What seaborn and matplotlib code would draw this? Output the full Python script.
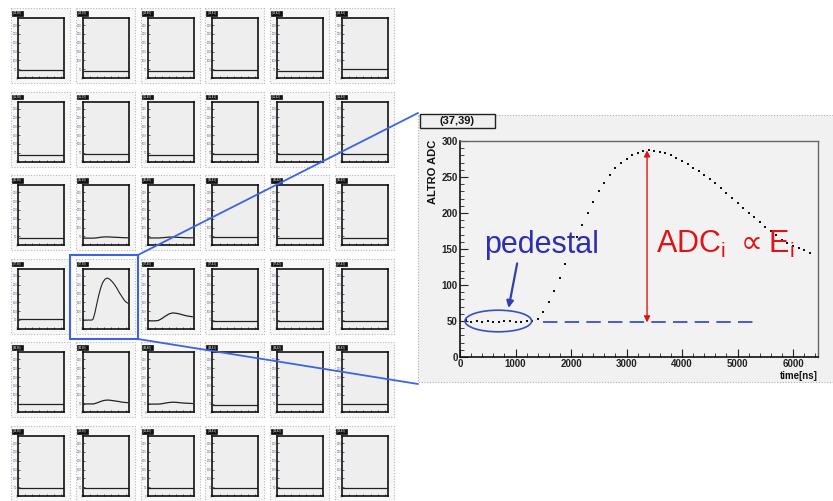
import matplotlib
matplotlib.use("Agg")
import matplotlib.pyplot as plt
import seaborn as sns
import pandas as pd
from matplotlib.patches import Rectangle, Ellipse
from matplotlib.ticker import MultipleLocator

# ---------------- data ----------------
time_ns = [100, 200, 300, 400, 500, 600, 700, 800, 900, 1000, 1100, 1200, 1300,
           1400, 1500, 1600, 1700, 1800, 1900, 2000, 2100, 2200, 2300,
           2400, 2500, 2600, 2700, 2800, 2900, 3000, 3100, 3200, 3300,
           3400, 3500, 3600, 3700, 3800, 3900, 4000, 4100, 4200, 4300,
           4400, 4500, 4600, 4700, 4800, 4900, 5000, 5100, 5200, 5300,
           5400, 5500, 5600, 5700, 5800, 5900, 6000, 6100, 6200, 6300]
adc_counts = [51, 49, 50, 49, 50, 49, 49, 50, 50, 49, 49, 50, 50,
              53, 62, 76, 92, 110, 129, 148, 166, 184, 200,
              215, 230, 242, 253, 262, 269, 275, 280, 283, 286,
              287, 286, 285, 283, 280, 276, 272, 268, 263, 258,
              253, 247, 241, 235, 228, 221, 214, 207, 200, 194,
              188, 181, 175, 169, 163, 158, 154, 151, 148, 145]

# neighbouring channels (small panels), coarse sampling
coarse_time = [100, 500, 1000, 1500, 2000, 2500, 3000, 3500, 4000, 4500, 5000, 5500, 6000, 6300]
adc_right = [45, 45, 45, 47, 58, 72, 84, 90, 88, 84, 78, 73, 70, 68]
adc_below = [48, 48, 48, 48, 54, 62, 68, 70, 68, 65, 62, 58, 56, 55]
adc_below_right = [47, 47, 47, 47, 49, 53, 56, 58, 57, 55, 53, 52, 51, 50]
adc_row3_a = [40, 40, 40, 40, 42, 45, 47, 47, 46, 45, 44, 43, 42, 42]
adc_row3_b = [41, 41, 41, 41, 42, 44, 46, 46, 45, 44, 43, 42, 42, 42]
flat_span = [100, 6300]
pedestal_grid = [[45, 40, 42, 44, 38, 52],
                 [40, 42, 40, 41, 43, 42],
                 [42, 40, 41, 44, 43, 42],
                 [55, 0, 0, 46, 44, 45],
                 [46, 0, 0, 44, 45, 46],
                 [45, 43, 44, 43, 44, 45]]

channel_row0, channel_col0 = 34, 38
panel_title = "(37,39)"
y_label = "ALTRO ADC"
x_label = "time[ns]"
pedestal_text = "pedestal"
energy_text = r"ADC$_\mathregular{i}$ $\propto$E$_\mathregular{i}$"
x_ticks = [0, 1000, 2000, 3000, 4000, 5000, 6000]
y_ticks = [0, 50, 100, 150, 200, 250, 300]
baseline_level = 48
baseline_span = [1500, 5300]
peak_time = 3370
peak_value = 287

# ---------------- figure ----------------
sns.set_theme(style="white")
plt.rcParams["font.family"] = ["Liberation Sans", "DejaVu Sans"]
plt.rcParams["mathtext.fontset"] = "dejavusans"

W, H = 833, 501
fig = plt.figure(figsize=(W / 100, H / 100), dpi=100)
fig.patch.set_facecolor("white")


def px_axes(l, t, w, h, **kw):
    return fig.add_axes([l / W, 1 - (t + h) / H, w / W, h / H], **kw)


bg = px_axes(0, 0, W, H)
bg.set_xlim(0, W)
bg.set_ylim(H, 0)
bg.axis("off")

# small panel grid
for r in range(6):
    for c in range(6):
        fl = 18 + 64.8 * c
        ft = 18 + 83.6 * r
        bg.add_patch(Rectangle((fl - 7, ft - 10), 59, 75, facecolor="#f7f7f7",
                               edgecolor="#b8b8b8", lw=0.8, ls=(0, (1, 1.5))))
        bg.add_patch(Rectangle((fl - 6, ft - 7), 11, 4.5, facecolor="#111111",
                               edgecolor="#111111", lw=0.5))
        bg.text(fl - 0.5, ft - 4.7, f"({channel_row0 + r},{channel_col0 + c})",
                color="white", fontsize=2, ha="center", va="center")
        ax = px_axes(fl, ft, 46, 60)
        ax.set_facecolor("#eeeeee")
        if (r, c) == (3, 1):
            sns.lineplot(x=time_ns, y=adc_counts, ax=ax, color="#222222", lw=0.8)
        elif (r, c) == (3, 2):
            sns.lineplot(x=coarse_time, y=adc_right, ax=ax, color="#222222", lw=0.9)
        elif (r, c) == (4, 1):
            sns.lineplot(x=coarse_time, y=adc_below, ax=ax, color="#222222", lw=0.9)
        elif (r, c) == (4, 2):
            sns.lineplot(x=coarse_time, y=adc_below_right, ax=ax, color="#222222", lw=0.9)
        elif (r, c) == (2, 1):
            sns.lineplot(x=coarse_time, y=adc_row3_a, ax=ax, color="#222222", lw=0.9)
        elif (r, c) == (2, 2):
            sns.lineplot(x=coarse_time, y=adc_row3_b, ax=ax, color="#222222", lw=0.9)
        else:
            p = pedestal_grid[r][c]
            sns.lineplot(x=flat_span, y=[p, p], ax=ax, color="#222222", lw=0.9)
        ax.set_xlim(0, 6450)
        ax.set_ylim(0, 340)
        ax.xaxis.set_major_locator(MultipleLocator(1000))
        ax.yaxis.set_major_locator(MultipleLocator(50))
        ax.tick_params(direction="in", length=1.5, width=0.5, labelsize=2,
                       pad=0.5, labelcolor="#7a5a8a", bottom=True, left=True)
        ax.set_xticklabels([])
        ax.set_xlabel("")
        ax.set_ylabel("")
        for s in ax.spines.values():
            s.set_color("#111111")
            s.set_linewidth(1.2)

# main pad
bg.add_patch(Rectangle((418, 115), 420, 267, facecolor="#f1f1f1",
                       edgecolor="#b0b0b0", lw=0.8, ls=(0, (1, 1.5))))
bg.add_patch(Rectangle((420, 114), 75, 14, facecolor="#efefef",
                       edgecolor="#222222", lw=1.0))
bg.text(457.5, 121, panel_title, fontsize=8, fontweight="bold", ha="center",
        va="center", color="#111111")
bg.text(433, 140, y_label, fontsize=8, fontweight="bold", rotation=90,
        ha="center", va="top", color="#111111")
bg.text(818, 376, x_label, fontsize=7, fontweight="bold", ha="right",
        va="center", color="#111111")

ax = px_axes(460, 141, 358, 216)
ax.set_facecolor("#f2f2f2")
df = pd.DataFrame({"time": time_ns, "adc": adc_counts})
sns.scatterplot(data=df, x="time", y="adc", ax=ax, color="#111111", s=4,
                marker="s", linewidth=0)
ax.set_xlim(0, 6450)
ax.set_ylim(0, 300)
ax.set_xticks(x_ticks)
ax.set_yticks(y_ticks)
ax.set_xticklabels([str(v) for v in x_ticks], fontweight="bold")
ax.set_yticklabels([str(v) for v in y_ticks], fontweight="bold")
ax.xaxis.set_minor_locator(MultipleLocator(200))
ax.yaxis.set_minor_locator(MultipleLocator(10))
ax.tick_params(which="major", direction="in", length=6, width=0.8,
               labelsize=7, pad=1.5, colors="#222222", bottom=True, left=True)
ax.tick_params(which="minor", direction="in", length=3, width=0.6,
               colors="#222222", bottom=True, left=True)
ax.set_xlabel("")
ax.set_ylabel("")
for side in ["left", "bottom"]:
    ax.spines[side].set_color("#111111")
    ax.spines[side].set_linewidth(1.2)
for side in ["top", "right"]:
    ax.spines[side].set_color("#666666")
    ax.spines[side].set_linewidth(1.0)

# annotations
ax.plot(baseline_span, [baseline_level, baseline_level], color="#3a4fd0",
        lw=1.3, dashes=(8, 4))
ax.add_patch(Ellipse((690, 50), 1200, 30, facecolor="none",
                     edgecolor="#3a4fc0", lw=1.2))
ax.annotate("", xy=(875, 68), xytext=(1030, 130),
            arrowprops=dict(arrowstyle="-|>", color="#3040b0", lw=1.6,
                            mutation_scale=10, shrinkA=0, shrinkB=0))
ax.annotate("", xy=(peak_time, peak_value), xytext=(peak_time, baseline_level),
            arrowprops=dict(arrowstyle="<|-|>", color="#dd1515", lw=1.0,
                            mutation_scale=9, shrinkA=0, shrinkB=0))
ax.text(1470, 155, pedestal_text, color="#2e2eb0", fontsize=22,
        ha="center", va="center")
ax.text(3525, 144, energy_text, color="#e01418", fontsize=22,
        ha="left", va="baseline")

# overlay: zoom connectors
ov = px_axes(0, 0, W, H)
ov.set_xlim(0, W)
ov.set_ylim(H, 0)
ov.axis("off")
ov.patch.set_alpha(0)
ov.add_patch(Rectangle((70, 255), 68, 84, facecolor="none",
                       edgecolor="#3d63e6", lw=1.5))
ov.plot([138, 418], [255, 113], color="#3d63e6", lw=1.3)
ov.plot([138, 418], [339, 384], color="#3d63e6", lw=1.3)

fig.savefig("out.png", dpi=100)
